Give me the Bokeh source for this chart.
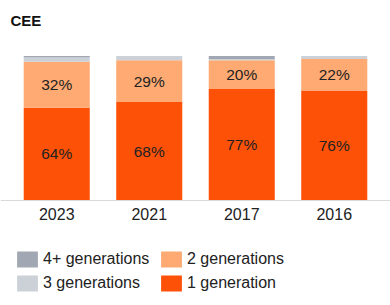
from bokeh.plotting import figure
from bokeh.models import ColumnDataSource, FactorRange, Range1d, Legend, LegendItem, Label
from bokeh.core.properties import value
from bokeh.embed import file_html
from bokeh.resources import INLINE

title = "CEE"
years = ["2023", "2021", "2017", "2016"]
gen1 = [64, 68, 77, 76]
gen2 = [32, 29, 20, 22]
gen3 = [3, 3, 1, 2]
gen4 = [1, 0, 2, 0]
series = ["gen1", "gen2", "gen3", "gen4"]
series_names = ["1 generation", "2 generations", "3 generations", "4+ generations"]
colors = ["#FD5108", "#FFAA72", "#CBD1D6", "#A1A8B3"]

FONT = "Liberation Sans"
W, H = 390, 305
PX_PER_PCT = 1.44
TOP_100 = 55.5   # px from top where 100% sits
BASE = 199.5     # px from top of the baseline

src = ColumnDataSource(dict(years=years, gen1=gen1, gen2=gen2, gen3=gen3, gen4=gen4))

p = figure(width=W, height=H,
           x_range=FactorRange(*years, range_padding=0.108, range_padding_units="absolute"),
           y_range=Range1d(-(H - BASE) / PX_PER_PCT, 100 + TOP_100 / PX_PER_PCT),
           output_backend="svg", toolbar_location=None, y_axis_location=None,
           min_border_left=0, min_border_right=0, min_border_top=0, min_border_bottom=0)
p.outline_line_color = None
p.grid.visible = False
p.background_fill_color = "white"

renderers = p.vbar_stack(series, x="years", width=0.714, color=colors, line_color=None, source=src)

lab_y, lab_x, lab_t = [], [], []
for i, y in enumerate(years):
    lab_x.append(y); lab_y.append(gen1[i] / 2); lab_t.append(f"{gen1[i]}%")
    lab_x.append(y); lab_y.append(gen1[i] + gen2[i] / 2); lab_t.append(f"{gen2[i]}%")
p.text(x=lab_x, y=lab_y, text=lab_t, text_align="center", text_baseline="middle",
       text_font=value(FONT), text_font_size="15.5px", text_color="#222222")

ax = p.xaxis[0]
ax.fixed_location = 0
ax.axis_line_color = "#D9D9D9"
ax.major_tick_line_color = None
ax.minor_tick_line_color = None
ax.major_label_text_font = FONT
ax.major_label_text_font_size = "16px"
ax.major_label_text_color = "#222222"
ax.major_label_standoff = 2

p.add_layout(Label(x=10, y=H - 20, x_units="screen", y_units="screen", text=title,
                   text_font=FONT, text_font_size="15px", text_font_style="bold",
                   text_color="#111111", text_baseline="alphabetic"))

def mk_legend(keys, x):
    lg = Legend(items=[LegendItem(label=series_names[k], renderers=[renderers[k]]) for k in keys],
                location=(x, 12), orientation="vertical",
                glyph_width=26, glyph_height=20, label_standoff=3, spacing=4, label_height=20,
                padding=0, margin=0, border_line_color=None, background_fill_alpha=0,
                label_text_font=FONT, label_text_font_size="16px", label_text_color="#222222")
    p.add_layout(lg, "center")

mk_legend([3, 2], 14)
mk_legend([1, 0], 158)

open("out.html", "w").write(file_html(p, INLINE))
